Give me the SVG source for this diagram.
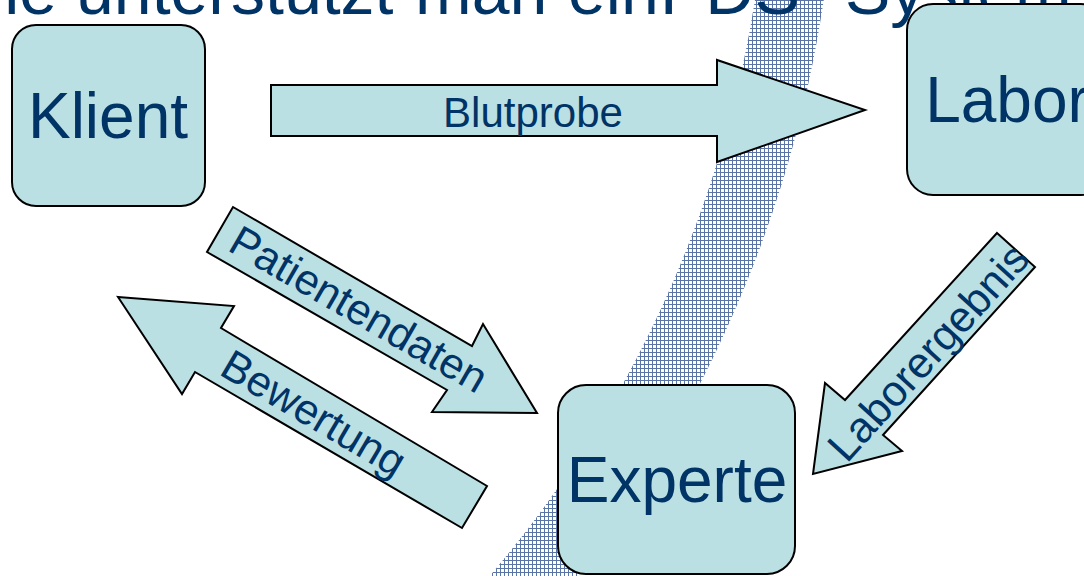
<svg xmlns="http://www.w3.org/2000/svg" width="1084" height="576" viewBox="0 0 1084 576">
  <defs>
    <pattern id="mesh" width="4" height="4" patternUnits="userSpaceOnUse">
      <rect width="4" height="4" fill="#ffffff"/>
      <rect width="4" height="1" fill="#5a74a6"/>
      <rect width="1" height="4" fill="#5a74a6"/>
    </pattern>
    <style>
      .box { fill: #bae0e3; stroke: #000; stroke-width: 2; }
      .arrow { fill: #bae0e3; stroke: #000; stroke-width: 2; stroke-linejoin: miter; }
      .name { font-family: "Liberation Sans", Arial, sans-serif; font-size: 64px; fill: #003366; text-anchor: middle; }
      .lbl { font-family: "Liberation Sans", Arial, sans-serif; font-size: 43px; fill: #003366; text-anchor: middle; }
      .title { font-family: "Liberation Sans", Arial, sans-serif; font-size: 68px; fill: #003366; }
    </style>
  </defs>

  <rect width="1084" height="576" fill="#ffffff"/>

  <!-- decorative meshed arc in the background -->
  <circle cx="-398" cy="-181.5" r="1201" fill="none" stroke="url(#mesh)" stroke-width="68"/>

  <!-- slide heading, mostly above the visible area -->
  <text class="title" y="14"><tspan x="-60">Wie unterstützt</tspan><tspan x="415">man</tspan><tspan x="568">ein</tspan><tspan x="660">PDS-</tspan><tspan x="845">System</tspan></text>

  <g id="connectors">
    <g id="blutprobe">
      <polygon class="arrow" points="271,85 717,85 717,60 865,110 717,162 717,136 271,136"/>
      <text class="lbl" x="533" y="127" style="font-size:42px">Blutprobe</text>
    </g>
    <g id="patientendaten">
      <polygon class="arrow" points="233,207 472,346 483,324 537,413 432,412 447,390 207,252"/>
      <text class="lbl" transform="translate(359,309) rotate(30)" y="15">Patientendaten</text>
    </g>
    <g id="bewertung">
      <polygon class="arrow" points="118,297 234,306 221,328 487,486 462,528 195,372 182,394"/>
      <text class="lbl" transform="translate(314,413) rotate(30.5)" y="15">Bewertung</text>
    </g>
    <g id="laborergebnis">
      <polygon class="arrow" points="997,233 1035,267 883,435 902,451 813,474 825,383 845,400"/>
      <text class="lbl" transform="translate(928,352) rotate(-47.8)" y="15">Laborergebnis</text>
    </g>
  </g>

  <g id="klient">
    <rect class="box" x="12" y="25" width="193" height="181" rx="24"/>
    <text class="name" x="108" y="138">Klient</text>
  </g>

  <g id="labor">
    <rect class="box" x="907" y="4" width="200" height="191" rx="26"/>
    <text class="name" x="1007" y="122">Labor</text>
  </g>

  <g id="experte">
    <rect class="box" x="558" y="385" width="237" height="189" rx="28"/>
    <text class="name" x="677" y="502">Experte</text>
  </g>
</svg>
